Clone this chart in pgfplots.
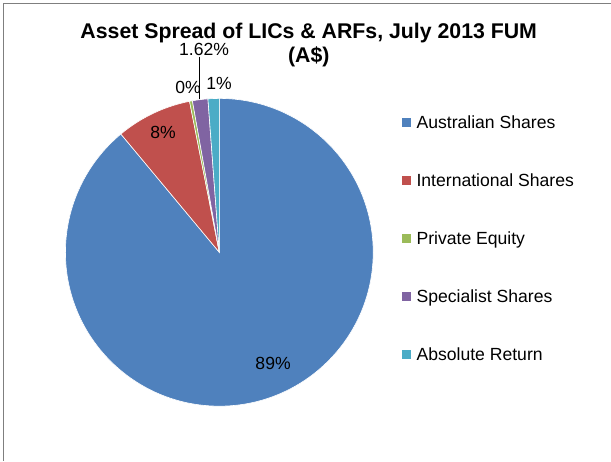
\documentclass[border=0pt]{standalone}
\usepackage{fontspec}
\setmainfont{Liberation Sans}
\usepackage{pgfplots}
\usepackage{pgfplotstable}
\pgfplotsset{compat=1.18}

\definecolor{pieA}{HTML}{4F81BD}
\definecolor{pieB}{HTML}{C0504D}
\definecolor{pieC}{HTML}{9BBB59}
\definecolor{pieD}{HTML}{8064A2}
\definecolor{pieE}{HTML}{4BACC6}
\definecolor{frame}{HTML}{7F7F7F}

\newcommand\lblfont{\fontsize{17.6bp}{21bp}\selectfont}
\newcommand\titlefont{\fontsize{21.3bp}{24.4bp}\selectfont\bfseries}

% share of FUM (%), label text, label position (px from top left)
\pgfplotstableread[col sep=comma]{
name,value,color,lab,lx,ly
Australian Shares,88.95,pieA,89,273.3,370
International Shares,7.95,pieB,8,163.3,138.3
Private Equity,0.30,pieC,0,188.3,94
Specialist Shares,1.62,pieD,1.62,204.3,55.3
Absolute Return,1.18,pieE,1,219.2,90
}\piedata

\begin{document}
\begin{tikzpicture}
\begin{axis}[
    hide axis, scale only axis,
    x=1bp, y=1bp,
    xmin=0, xmax=611, ymin=0, ymax=461,
    clip=false,
]
\path (axis cs:0,0) rectangle (axis cs:611,461);
\draw[frame, line width=1bp] (axis cs:4,0) -- (axis cs:4,457.5) -- (axis cs:611,457.5);

\node[anchor=base, font=\titlefont] at (axis cs:309,422.7) {Asset Spread of LICs \& ARFs, July 2013 FUM};
\node[anchor=base, font=\titlefont] at (axis cs:309,398.3) {(A\$)};

\pgfplotstablegetrowsof{\piedata}
\pgfmathtruncatemacro\lastrow{\pgfplotsretval-1}
\def\cum{0}
\pgfplotsforeachungrouped \i in {0,...,\lastrow}{%
  \pgfplotstablegetelem{\i}{value}\of\piedata \let\val\pgfplotsretval
  \pgfplotstablegetelem{\i}{color}\of\piedata \let\col\pgfplotsretval
  \pgfplotstablegetelem{\i}{name}\of\piedata \let\nam\pgfplotsretval
  \pgfplotstablegetelem{\i}{lab}\of\piedata \let\lab\pgfplotsretval
  \pgfplotstablegetelem{\i}{lx}\of\piedata \let\lx\pgfplotsretval
  \pgfplotstablegetelem{\i}{ly}\of\piedata \pgfmathsetmacro\ly{461-\pgfplotsretval}
  \pgfmathsetmacro\sa{90-3.6*\cum}
  \pgfmathsetmacro\cum{\cum+\val}
  \pgfmathsetmacro\ea{90-3.6*\cum}
  \pgfmathsetmacro\kc{461-122.3-58*\i}
  \pgfmathsetmacro\kb{\kc-4.5}
  \pgfmathsetmacro\kt{\kc+4.5}
  \pgfmathsetmacro\kl{\kc-6.3}
  \edef\temp{%
    \noexpand\fill[\col, draw=white, line width=0.6bp] (axis cs:219.5,208.5) -- ++(\sa:154bp)
      arc[start angle=\sa, end angle=\ea, radius=154bp] -- cycle;
    \noexpand\node[anchor=base, font=\noexpand\lblfont, inner sep=0pt] at (axis cs:\lx,\ly) {\lab\noexpand\%};
    \noexpand\fill[\col] (axis cs:402.7,\kb) rectangle (axis cs:411.7,\kt);
    \noexpand\node[anchor=base west, font=\noexpand\lblfont, inner sep=0pt] at (axis cs:416.7,\kl) {\nam};
  }%
  \temp
}
% leader line for the Specialist Shares label
\draw[black, line width=0.8bp] (axis cs:200,404.3) -- (axis cs:200,362);
\end{axis}
\end{tikzpicture}
\end{document}
